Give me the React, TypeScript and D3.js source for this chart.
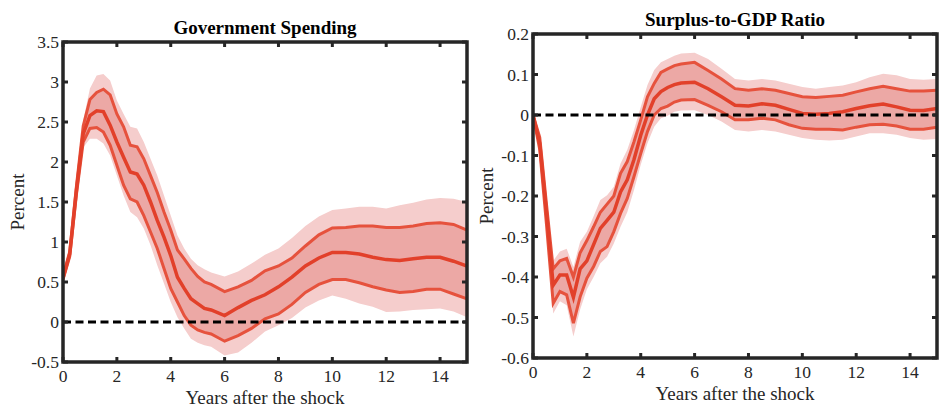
import React from 'react';
import * as d3 from 'd3';

// quarterly up to 5.5 years, then every half year
const years = [0, 0.25, 0.5, 0.75, 1, 1.25, 1.5, 1.75, 2, 2.25, 2.5, 2.75, 3, 3.25, 3.5, 3.75, 4, 4.25, 4.5, 4.75, 5, 5.25, 5.5,
  6, 6.5, 7, 7.5, 8, 8.5, 9, 9.5, 10, 10.5, 11, 11.5, 12, 12.5, 13, 13.5, 14, 14.5, 15];

// Government Spending
const govMid = [0.55, 0.85, 1.65, 2.35, 2.58, 2.64, 2.63, 2.46, 2.25, 2.06, 1.875, 1.85, 1.71, 1.5, 1.27, 1.06, 0.83, 0.56, 0.42, 0.29, 0.23, 0.17, 0.15,
  0.08, 0.18, 0.27, 0.34, 0.44, 0.56, 0.7, 0.8, 0.87, 0.87, 0.85, 0.81, 0.78, 0.77, 0.79, 0.81, 0.81, 0.76, 0.7];
const govHi68 = [0.57, 0.88, 1.7, 2.45, 2.78, 2.87, 2.91, 2.84, 2.6, 2.44, 2.21, 2.19, 2.04, 1.83, 1.62, 1.375, 1.15, 0.9, 0.79, 0.67, 0.57, 0.5, 0.47,
  0.38, 0.44, 0.52, 0.64, 0.7, 0.8, 0.95, 1.09, 1.175, 1.18, 1.2, 1.2, 1.18, 1.18, 1.2, 1.23, 1.24, 1.22, 1.15];
const govLo68 = [0.53, 0.82, 1.6, 2.25, 2.42, 2.43, 2.375, 2.21, 1.96, 1.71, 1.54, 1.5, 1.33, 1.125, 0.92, 0.67, 0.42, 0.25, 0.08, -0.04, -0.1, -0.13, -0.15,
  -0.24, -0.17, -0.08, 0.04, 0.1, 0.22, 0.37, 0.47, 0.53, 0.53, 0.49, 0.44, 0.4, 0.37, 0.38, 0.41, 0.41, 0.35, 0.29];
const govHi90 = [0.6, 0.92, 1.76, 2.52, 2.92, 3.08, 3.1, 3.02, 2.77, 2.6, 2.44, 2.42, 2.25, 2.04, 1.83, 1.58, 1.33, 1.08, 0.92, 0.79, 0.71, 0.66, 0.62,
  0.57, 0.63, 0.73, 0.84, 0.92, 1.05, 1.2, 1.32, 1.4, 1.42, 1.44, 1.44, 1.42, 1.46, 1.49, 1.53, 1.55, 1.54, 1.5];
const govLo90 = [0.5, 0.78, 1.54, 2.18, 2.29, 2.29, 2.23, 2.08, 1.83, 1.58, 1.375, 1.31, 1.17, 0.96, 0.71, 0.48, 0.25, 0.06, -0.08, -0.21, -0.26, -0.29, -0.31,
  -0.42, -0.38, -0.26, -0.12, -0.04, 0.05, 0.18, 0.27, 0.33, 0.29, 0.23, 0.19, 0.125, 0.13, 0.15, 0.16, 0.17, 0.13, 0.06];

// Surplus-to-GDP Ratio
const surMid = [0, -0.07, -0.24, -0.42, -0.395, -0.395, -0.45, -0.38, -0.36, -0.32, -0.28, -0.26, -0.24, -0.19, -0.16, -0.11, -0.05, 0, 0.04, 0.058, 0.068, 0.075, 0.079,
  0.081, 0.065, 0.045, 0.024, 0.022, 0.028, 0.024, 0.014, 0.004, 0.002, 0.004, 0.008, 0.016, 0.023, 0.027, 0.02, 0.012, 0.011, 0.016];
const surHi68 = [0, -0.055, -0.22, -0.38, -0.36, -0.354, -0.4, -0.34, -0.31, -0.276, -0.24, -0.22, -0.2, -0.144, -0.115, -0.066, -0.012, 0.045, 0.078, 0.105, 0.114, 0.122, 0.126,
  0.13, 0.11, 0.089, 0.065, 0.061, 0.065, 0.061, 0.053, 0.045, 0.043, 0.046, 0.049, 0.057, 0.065, 0.071, 0.065, 0.059, 0.059, 0.061];
const surLo68 = [0, -0.085, -0.27, -0.465, -0.436, -0.444, -0.514, -0.449, -0.403, -0.374, -0.337, -0.325, -0.288, -0.243, -0.206, -0.152, -0.095, -0.041, 0, 0.016, 0.022, 0.032, 0.037,
  0.038, 0.024, 0.008, -0.012, -0.012, -0.008, -0.012, -0.024, -0.033, -0.035, -0.035, -0.037, -0.03, -0.024, -0.023, -0.027, -0.035, -0.035, -0.03];
const surHi90 = [0.005, -0.045, -0.2, -0.36, -0.337, -0.33, -0.375, -0.313, -0.288, -0.25, -0.21, -0.198, -0.177, -0.12, -0.086, -0.037, 0.02, 0.074, 0.111, 0.13, 0.138, 0.146, 0.152,
  0.154, 0.138, 0.114, 0.089, 0.085, 0.089, 0.085, 0.077, 0.069, 0.065, 0.069, 0.073, 0.081, 0.093, 0.102, 0.098, 0.089, 0.087, 0.089];
const surLo90 = [-0.005, -0.095, -0.29, -0.49, -0.46, -0.47, -0.547, -0.48, -0.43, -0.4, -0.366, -0.35, -0.317, -0.276, -0.24, -0.185, -0.123, -0.07, -0.029, -0.008, -0.002, 0.008, 0.011,
  0.012, 0, -0.016, -0.037, -0.041, -0.037, -0.041, -0.049, -0.057, -0.061, -0.063, -0.061, -0.053, -0.045, -0.045, -0.049, -0.057, -0.061, -0.059];

const xTicks = [0, 2, 4, 6, 8, 10, 12, 14];
const govTicks = [-0.5, 0, 0.5, 1, 1.5, 2, 2.5, 3, 3.5];
const surTicks = [-0.6, -0.5, -0.4, -0.3, -0.2, -0.1, 0, 0.1, 0.2];

const FONT = '"Liberation Serif", "Times New Roman", serif';
const AXIS = '#262626';

type PanelProps = {
  title: string;
  left: number; right: number; top: number; bottom: number;
  yDomain: [number, number];
  yTicks: number[];
  mid: number[]; hi68: number[]; lo68: number[]; hi90: number[]; lo90: number[];
  titleY: number; xLabelY: number; yLabelX: number;
};

const Panel = (p: PanelProps) => {
  const x = d3.scaleLinear().domain([0, 15]).range([p.left, p.right]);
  const y = d3.scaleLinear().domain(p.yDomain).range([p.bottom, p.top]);

  const band = (hi: number[], lo: number[]) =>
    d3.area<number>()
      .x((_, i) => x(years[i]))
      .y0((_, i) => y(lo[i]))
      .y1((_, i) => y(hi[i]))(years) || '';
  const line = (vals: number[]) =>
    d3.line<number>()
      .x((_, i) => x(years[i]))
      .y((_, i) => y(vals[i]))(years) || '';

  const tick = 5;
  const cx = (p.left + p.right) / 2;
  const cy = (p.top + p.bottom) / 2;

  return (
    <g>
      <defs>
        <clipPath id={`clip-${p.left}`}>
          <rect x={p.left} y={p.top} width={p.right - p.left} height={p.bottom - p.top} />
        </clipPath>
      </defs>
      <g clipPath={`url(#clip-${p.left})`}>
        <path d={band(p.hi90, p.lo90)} fill="#f5cdcc" />
        <path d={band(p.hi68, p.lo68)} fill="#eca8a5" />
        <path d={line(p.hi68)} fill="none" stroke="#e6523d" strokeWidth={3} />
        <path d={line(p.lo68)} fill="none" stroke="#e6523d" strokeWidth={3} />
        <path d={line(p.mid)} fill="none" stroke="#e2402a" strokeWidth={3.5} />
        <line x1={x(0)} x2={x(15)} y1={y(0)} y2={y(0)} stroke="#000" strokeWidth={3} strokeDasharray="8,4.5" />
      </g>

      {/* ticks on all four sides, pointing inwards */}
      {xTicks.map(t => (
        <g key={`xt${t}`}>
          <line x1={x(t)} x2={x(t)} y1={p.bottom} y2={p.bottom - tick} stroke={AXIS} strokeWidth={3} />
          <line x1={x(t)} x2={x(t)} y1={p.top} y2={p.top + tick} stroke={AXIS} strokeWidth={3} />
          <text x={x(t)} y={p.bottom + 20} textAnchor="middle" fontFamily={FONT} fontSize={17.5} fill="#262626">{t}</text>
        </g>
      ))}
      {p.yTicks.map(v => (
        <g key={`yt${v}`}>
          <line x1={p.left} x2={p.left + tick} y1={y(v)} y2={y(v)} stroke={AXIS} strokeWidth={3} />
          <line x1={p.right} x2={p.right - tick} y1={y(v)} y2={y(v)} stroke={AXIS} strokeWidth={3} />
          <text x={p.left - 4} y={y(v) + 6} textAnchor="end" fontFamily={FONT} fontSize={17.5} fill="#262626">{String(+v.toFixed(1))}</text>
        </g>
      ))}

      <rect x={p.left} y={p.top} width={p.right - p.left} height={p.bottom - p.top} fill="none" stroke={AXIS} strokeWidth={3.5} />

      <text x={cx} y={p.titleY} textAnchor="middle" fontFamily={FONT} fontSize={19} fontWeight="bold" fill="#000">{p.title}</text>
      <text x={cx} y={p.xLabelY} textAnchor="middle" fontFamily={FONT} fontSize={19} fill="#262626">Years after the shock</text>
      <text transform={`translate(${p.yLabelX},${cy}) rotate(-90)`} textAnchor="middle" fontFamily={FONT} fontSize={19} fill="#262626">Percent</text>
    </g>
  );
};

export default function App() {
  return (
    <svg width={939} height={408} style={{ position: 'absolute', left: 0, top: 0, background: '#fff' }}>
      <Panel title="Government Spending" left={63} right={467} top={42} bottom={362}
        yDomain={[-0.5, 3.5]} yTicks={govTicks}
        mid={govMid} hi68={govHi68} lo68={govLo68} hi90={govHi90} lo90={govLo90}
        titleY={34} xLabelY={404} yLabelX={24} />
      <Panel title="Surplus-to-GDP Ratio" left={533} right={937} top={34} bottom={358}
        yDomain={[-0.6, 0.2]} yTicks={surTicks}
        mid={surMid} hi68={surHi68} lo68={surLo68} hi90={surHi90} lo90={surLo90}
        titleY={26} xLabelY={400} yLabelX={493} />
    </svg>
  );
}
